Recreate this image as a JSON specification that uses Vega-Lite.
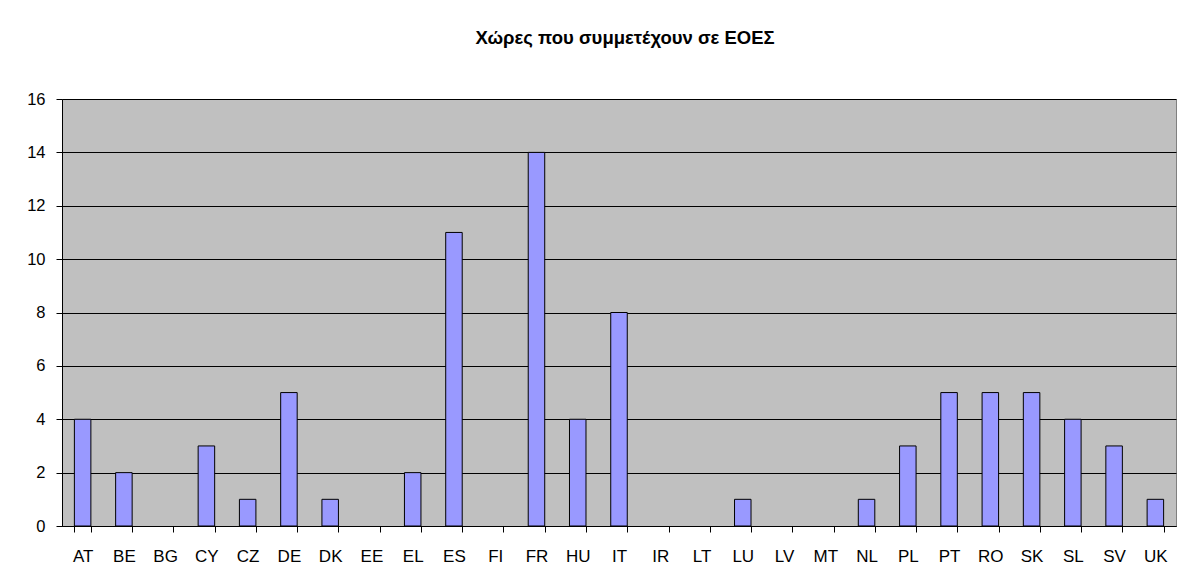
{
  "$schema": "https://vega.github.io/schema/vega-lite/v6.json",
  "autosize": "none",
  "width": 1114,
  "height": 427,
  "padding": {"left": 62, "top": 99, "right": 6, "bottom": 55},
  "background": "white",
  "title": {
    "text": "Χώρες που συμμετέχουν σε ΕΟΕΣ",
    "font": "Liberation Sans",
    "fontSize": 18.5,
    "fontWeight": "bold",
    "color": "black",
    "anchor": "middle",
    "frame": "group",
    "baseline": "alphabetic",
    "offset": 29,
    "dx": 6
  },
  "data": {
    "values": [
      {"country": "AT", "value": 4},
      {"country": "BE", "value": 2},
      {"country": "BG", "value": 0},
      {"country": "CY", "value": 3},
      {"country": "CZ", "value": 1},
      {"country": "DE", "value": 5},
      {"country": "DK", "value": 1},
      {"country": "EE", "value": 0},
      {"country": "EL", "value": 2},
      {"country": "ES", "value": 11},
      {"country": "FI", "value": 0},
      {"country": "FR", "value": 14},
      {"country": "HU", "value": 4},
      {"country": "IT", "value": 8},
      {"country": "IR", "value": 0},
      {"country": "LT", "value": 0},
      {"country": "LU", "value": 1},
      {"country": "LV", "value": 0},
      {"country": "MT", "value": 0},
      {"country": "NL", "value": 1},
      {"country": "PL", "value": 3},
      {"country": "PT", "value": 5},
      {"country": "RO", "value": 5},
      {"country": "SK", "value": 5},
      {"country": "SL", "value": 4},
      {"country": "SV", "value": 3},
      {"country": "UK", "value": 1}
    ]
  },
  "mark": {"type": "bar", "fill": "#9999FF", "stroke": "black", "strokeWidth": 1},
  "encoding": {
    "x": {
      "field": "country",
      "type": "nominal",
      "sort": null,
      "scale": {"paddingInner": 0.6, "paddingOuter": 0.3},
      "axis": {
        "title": null,
        "labelAngle": 0,
        "labelFont": "Liberation Sans",
        "labelFontSize": 17,
        "labelColor": "black",
        "labelPadding": 16,
        "tickBand": "extent",
        "tickSize": 6,
        "tickColor": "black",
        "domainColor": "black",
        "grid": false
      }
    },
    "y": {
      "field": "value",
      "type": "quantitative",
      "scale": {"domain": [0, 16], "nice": false},
      "axis": {
        "title": null,
        "values": [0, 2, 4, 6, 8, 10, 12, 14, 16],
        "labelFont": "Liberation Sans",
        "labelFontSize": 16.5,
        "labelColor": "black",
        "labelPadding": 11,
        "tickSize": 6,
        "tickColor": "black",
        "domainColor": "black",
        "grid": true,
        "gridColor": "black",
        "gridOpacity": 1
      }
    },
    "strokeOpacity": {
      "condition": {"test": "datum.value == 0", "value": 0},
      "value": 1
    }
  },
  "config": {
    "view": {"fill": "#C0C0C0", "stroke": "#808080", "strokeWidth": 1}
  }
}
